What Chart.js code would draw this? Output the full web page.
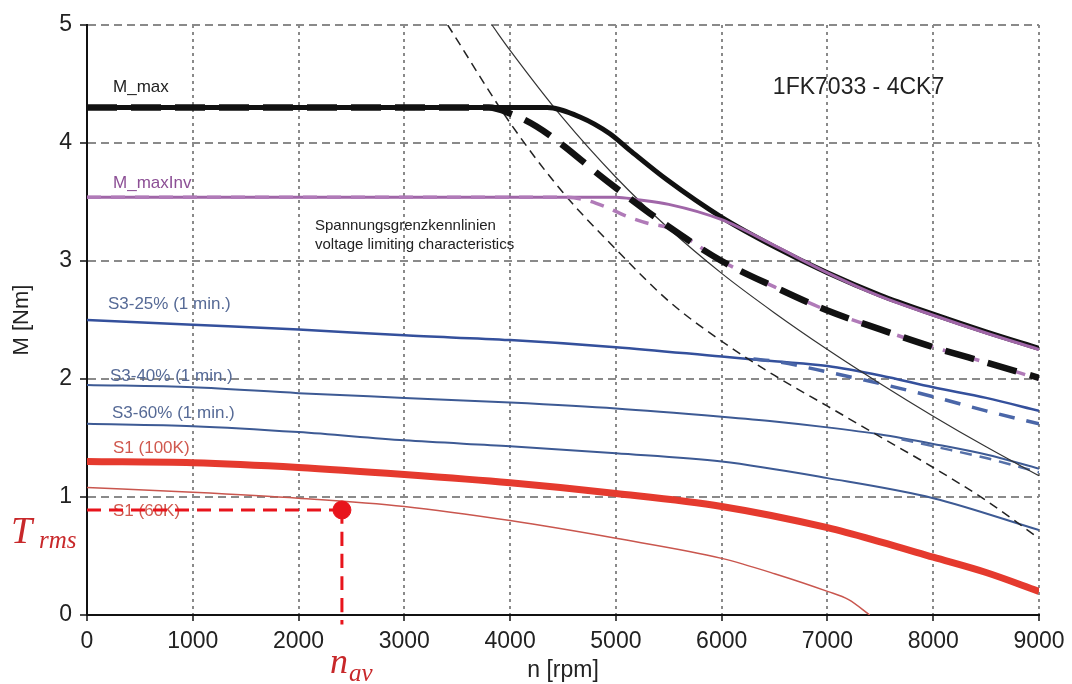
<!DOCTYPE html>
<html>
<head>
<meta charset="utf-8">
<script src="https://cdn.jsdelivr.net/npm/chart.js@4"></script>
<style>
  body { margin: 0; background: #fff; }
  canvas { display: block; }
</style>
</head>
<body>
<canvas id="chart" width="1072" height="684"></canvas>
<script>
// Drehmoment-Drehzahl Kennlinien 1FK7033 - 4CK7

// axis ticks
const rpmTicks = [0, 1000, 2000, 3000, 4000, 5000, 6000, 7000, 8000, 9000];
const nmTicks = [0, 1, 2, 3, 4, 5];

// M_max (solid) and dashed variant
const mMaxRpm = [0, 4350, 4660, 4940, 5130, 5480, 6000, 6500, 7000, 7500, 8000, 8500, 9000];
const mMaxNm = [4.3, 4.3, 4.22, 4.08, 3.94, 3.69, 3.37, 3.12, 2.9, 2.71, 2.55, 2.4, 2.26];
const mMaxDashRpm = [0, 3800, 4000, 4250, 4500, 4800, 5000, 5500, 6000, 6500, 7000, 7500, 8000, 8500, 9000];
const mMaxDashNm = [4.3, 4.3, 4.25, 4.14, 3.98, 3.76, 3.62, 3.29, 3.0, 2.78, 2.58, 2.42, 2.27, 2.14, 2.01];

// M_maxInv
const mInvRpm = [0, 5000, 5200, 5500, 6000, 6500, 7000, 7500, 8000, 8500, 9000];
const mInvNm = [3.54, 3.54, 3.52, 3.48, 3.35, 3.13, 2.9, 2.7, 2.54, 2.39, 2.25];
const mInvDashRpm = [0, 4500, 4700, 4900, 5100, 5300, 5500, 6000, 6500, 7000, 7500, 8000, 8500, 9000];
const mInvDashNm = [3.54, 3.54, 3.52, 3.46, 3.38, 3.32, 3.28, 3.0, 2.78, 2.58, 2.42, 2.27, 2.14, 2.0];

// Spannungsgrenzkennlinien
const voltRpm = [3828, 4000, 4500, 5000, 5500, 6000, 6500, 7000, 7500, 8000, 8500, 9000];
const voltNm = [5, 4.785, 4.21, 3.71, 3.275, 2.895, 2.56, 2.25, 1.96, 1.685, 1.425, 1.18];
const voltDashRpm = [3410, 4000, 4500, 5000, 5500, 6000, 6500, 7000, 7500, 8000, 8500, 9000];
const voltDashNm = [5, 4.17, 3.58, 3.1, 2.66, 2.32, 2.03, 1.77, 1.51, 1.25, 0.97, 0.65];

// S3 curves
const s3Rpm = [0, 1000, 2000, 3000, 4000, 5000, 6000, 6500, 7000, 7500, 8000, 8500, 9000];
const s325Nm = [2.5, 2.46, 2.42, 2.37, 2.33, 2.27, 2.19, 2.15, 2.11, 2.03, 1.93, 1.84, 1.73];
const s325DashRpm = [6300, 6500, 7000, 7500, 8000, 8500, 9000];
const s325DashNm = [2.17, 2.15, 2.06, 1.96, 1.85, 1.73, 1.62];
const s340Nm = [1.95, 1.93, 1.88, 1.84, 1.8, 1.75, 1.68, 1.64, 1.59, 1.53, 1.45, 1.36, 1.24];
const s340DashRpm = [7700, 8000, 8500, 9000];
const s340DashNm = [1.49, 1.43, 1.33, 1.21];
const s360Rpm = [0, 1000, 2000, 3000, 4000, 5000, 6000, 7000, 8000, 9000];
const s360Nm = [1.62, 1.6, 1.55, 1.48, 1.43, 1.37, 1.3, 1.16, 0.99, 0.72];

// S1 curves
const s1hRpm = [0, 1000, 2000, 3000, 4000, 5000, 6000, 7000, 7500, 8000, 8500, 9000];
const s1hNm = [1.3, 1.29, 1.25, 1.19, 1.12, 1.03, 0.92, 0.74, 0.62, 0.49, 0.36, 0.2];
const s1lRpm = [0, 1000, 2000, 3000, 4000, 5000, 6000, 6500, 7000, 7200, 7400];
const s1lNm = [1.08, 1.04, 0.99, 0.92, 0.8, 0.65, 0.48, 0.35, 0.2, 0.13, 0];

// operating point
const nAv = 2410;
const tRms = 0.89;

// curve labels
const labelText = ['M_max', 'M_maxInv', 'Spannungsgrenzkennlinien', 'voltage limiting characteristics',
  '1FK7033 - 4CK7', 'S3-25% (1 min.)', 'S3-40% (1 min.)', 'S3-60% (1 min.)', 'S1 (100K)', 'S1 (60K)'];
const labelRpm = [246, 246, 2155, 2155, 6484, 198, 217, 236, 246, 246];
const labelNm = [4.47, 3.66, 3.30, 3.14, 4.47, 2.63, 2.02, 1.71, 1.41, 0.88];
const labelColor = ['#222', '#8c4f95', '#222', '#222', '#222', '#566a96', '#566a96', '#566a96', '#d0584e', '#d0584e'];
const labelFont = ['17px', '17px', '15px', '15px', '23px', '17px', '17px', '17px', '17px', '17px'];

const pts = (xs, ys) => xs.map((x, i) => ({x: x, y: ys[i]}));

function line(data, color, width, dash) {
  return {
    data: data, showLine: true, borderColor: color, backgroundColor: color,
    borderWidth: width, borderDash: dash || [], pointRadius: 0,
    cubicInterpolationMode: 'monotone', fill: false
  };
}

const textPlugin = {
  id: 'texts',
  beforeDatasetsDraw(chart) {
    const ctx = chart.ctx, xs = chart.scales.x, ys = chart.scales.y;
    ctx.save();
    ctx.textBaseline = 'middle';
    ctx.textAlign = 'left';
    labelText.forEach((t, i) => {
      ctx.font = labelFont[i] + " 'Liberation Sans', Arial, sans-serif";
      ctx.fillStyle = labelColor[i];
      ctx.fillText(t, xs.getPixelForValue(labelRpm[i]), ys.getPixelForValue(labelNm[i]));
    });
    ctx.restore();
  },
  afterDraw(chart) {
    const ctx = chart.ctx, xs = chart.scales.x, ys = chart.scales.y;
    const area = chart.chartArea;
    const yp = ys.getPixelForValue(tRms), xp = xs.getPixelForValue(nAv);
    ctx.save();
    ctx.fillStyle = '#c8282a';
    ctx.textBaseline = 'alphabetic';
    ctx.font = "italic 38px 'Liberation Serif', serif";
    ctx.fillText('T', area.left - 76, yp + 33);
    ctx.font = "italic 36px 'Liberation Serif', serif";
    ctx.fillText('n', xp - 12, area.bottom + 58);
    ctx.font = "italic 25px 'Liberation Serif', serif";
    ctx.fillText('rms', area.left - 48, yp + 38);
    ctx.fillText('av', xp + 7, area.bottom + 66);
    ctx.restore();
  }
};

const tickFont = { size: 23, family: "'Liberation Sans', Arial" };

// Chart.js paints dataset 0 on top, so the list runs from front to back
new Chart(document.getElementById('chart'), {
  type: 'scatter',
  data: {
    datasets: [
      {data: [{x: nAv, y: tRms}], pointRadius: 9, pointBackgroundColor: '#e8141c', pointBorderColor: '#e8141c', showLine: false},
      Object.assign(line([{x: 0, y: tRms}, {x: nAv, y: tRms}], '#e8141c', 3, [14, 8]), {clip: false}),
      Object.assign(line([{x: nAv, y: tRms}, {x: nAv, y: -0.08}], '#e8141c', 3, [14, 8]), {clip: false}),
      line(pts(mMaxDashRpm, mMaxDashNm), '#111', 6.5, [30, 14]),
      line(pts(mInvDashRpm, mInvDashNm), '#b07ab8', 3.5, [14, 10]),
      line(pts(mInvRpm, mInvNm), '#a066a8', 3),
      line(pts(mMaxRpm, mMaxNm), '#111', 5),
      line(pts(voltRpm, voltNm), '#333', 1.2),
      line(pts(voltDashRpm, voltDashNm), '#222', 1.5, [9, 6]),
      line(pts(s325DashRpm, s325DashNm), '#4a66a8', 3.5, [16, 12]),
      line(pts(s3Rpm, s325Nm), '#34509c', 2.5),
      line(pts(s340DashRpm, s340DashNm), '#5570a8', 2.5, [12, 8]),
      line(pts(s3Rpm, s340Nm), '#3d5a94', 2),
      line(pts(s360Rpm, s360Nm), '#3d5a94', 2),
      line(pts(s1hRpm, s1hNm), '#e53a2e', 7),
      line(pts(s1lRpm, s1lNm), '#c9564e', 1.5)
    ]
  },
  options: {
    responsive: false,
    animation: false,
    layout: { padding: { top: 25, right: 33, left: 0, bottom: 0 } },
    plugins: { legend: { display: false }, tooltip: { enabled: false } },
    scales: {
      x: {
        type: 'linear', min: 0, max: 9000,
        afterFit: s => { s.height = 69; },
        afterBuildTicks: s => { s.ticks = rpmTicks.map(v => ({value: v})); },
        ticks: { color: '#222', padding: 7, maxRotation: 0, font: tickFont, callback: v => String(v) },
        grid: { color: '#8a8a8a', lineWidth: 2, tickLength: 6, tickColor: '#111', tickWidth: 1.5, tickBorderDash: [] },
        border: { display: true, color: '#111', width: 2, dash: [3, 4] },
        title: { display: true, text: 'n [rpm]', color: '#222', padding: { top: 0, bottom: 0 }, font: { size: 23, family: "'Liberation Sans', Arial" } }
      },
      y: {
        type: 'linear', min: 0, max: 5,
        afterFit: s => { s.width = 87; },
        afterBuildTicks: s => { s.ticks = nmTicks.map(v => ({value: v})); },
        ticks: { color: '#222', padding: 8, font: tickFont, callback: v => String(v) },
        grid: { color: '#8a8a8a', lineWidth: 2, tickLength: 7, tickColor: '#111', tickWidth: 1.5, tickBorderDash: [] },
        border: { display: true, color: '#111', width: 2, dash: [8, 5] },
        title: { display: true, text: 'M [Nm]', color: '#222', padding: { top: 9, bottom: 0 }, font: { size: 22, family: "'Liberation Sans', Arial" } }
      }
    }
  },
  plugins: [textPlugin]
});
</script>
</body>
</html>
